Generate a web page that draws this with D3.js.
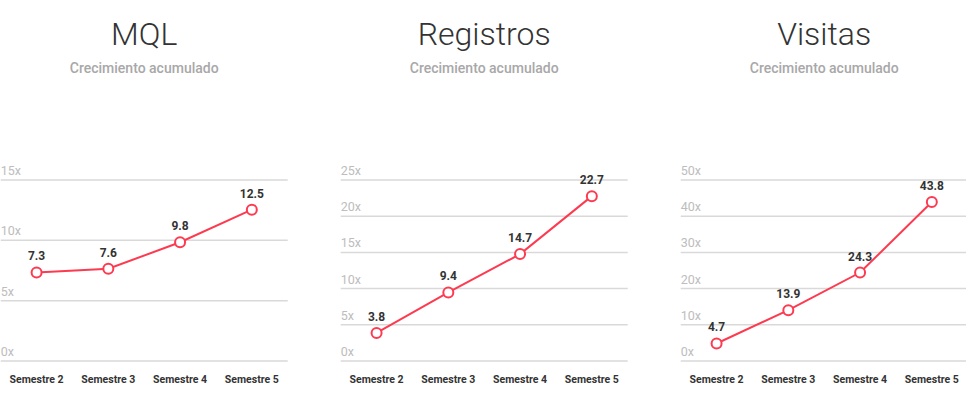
<!DOCTYPE html>
<html>
<head>
<meta charset="utf-8">
<script src="https://cdn.jsdelivr.net/npm/d3@7"></script>
<style>
  html, body { margin: 0; padding: 0; background: #fff; }
  svg { display: block; font-family: Roboto, "Noto Sans", sans-serif; }
</style>
</head>
<body>
<div class="chartsWrapper"></div>
<script>
// values
var semesters = ["Semestre 2", "Semestre 3", "Semestre 4", "Semestre 5"]
var titles = ["MQL", "Registros", "Visitas"]
var subtitle = "Crecimiento acumulado"
var mqlValues = [7.3, 7.6, 9.8, 12.5]
var registrosValues = [3.8, 9.4, 14.7, 22.7]
var visitasValues = [4.7, 13.9, 24.3, 43.8]
var mqlTicks = [0, 5, 10, 15]
var registrosTicks = [0, 5, 10, 15, 20, 25]
var visitasTicks = [0, 10, 20, 30, 40, 50]

var panels = [
  { title: titles[0], values: mqlValues, ticks: mqlTicks },
  { title: titles[1], values: registrosValues, ticks: registrosTicks },
  { title: titles[2], values: visitasValues, ticks: visitasTicks }
]

var width = 966, height = 410
var red = '#fd3a50'

var svg = d3.select('.chartsWrapper')
            .append('svg')
            .attr('width', width)
            .attr('height', height)

var plotW = 287, plotTop = 179.5, plotBottom = 360.5

panels.forEach(function(p, i) {
  var left = 0.7 + i * 340
  var g = svg.append('g').attr('transform', 'translate(' + left + ',0)')

  var x = d3.scaleBand()
            .domain(semesters)
            .range([0, plotW])
  var y = d3.scaleLinear()
            .domain([0, d3.max(p.ticks)])
            .range([plotBottom, plotTop])

  // titles
  g.append('text')
   .attr('x', plotW / 2).attr('y', 45)
   .attr('text-anchor', 'middle')
   .style('font-size', '32px').style('font-weight', 300)
   .style('fill', '#333')
   .text(p.title)

  g.append('text')
   .attr('x', plotW / 2).attr('y', 73)
   .attr('text-anchor', 'middle')
   .style('font-size', '14px').style('font-weight', 500)
   .style('fill', '#a8a8a8')
   .text(subtitle)

  // grid + y labels via axis
  var yAxis = d3.axisRight(y)
                .tickValues(p.ticks)
                .tickSize(plotW)
                .tickFormat(function(d) { return d + 'x' })
  var ya = g.append('g').call(yAxis)
  ya.select('.domain').remove()
  ya.selectAll('.tick line')
    .attr('stroke', '#d9d9d9')
    .attr('stroke-width', 1.5)
  ya.selectAll('.tick text')
    .attr('x', 0).attr('dy', -5)
    .attr('text-anchor', 'start')
    .style('font-size', '12.5px')
    .style('font-family', 'Roboto, sans-serif')
    .style('fill', '#bdbdbd')

  // x labels
  var xAxis = d3.axisBottom(x).tickSize(0).tickPadding(0)
  var xa = g.append('g')
            .attr('transform', 'translate(0,' + 383 + ')')
            .call(xAxis)
  xa.select('.domain').remove()
  xa.selectAll('.tick text')
    .attr('dy', 0).attr('y', 0)
    .style('font-size', '10.5px')
    .style('font-weight', 700)
    .style('font-family', 'Roboto, sans-serif')
    .style('fill', '#333')

  var cx = function(d, j) { return x(semesters[j]) + x.bandwidth() / 2 }

  var line = d3.line()
               .x(cx)
               .y(function(d) { return y(d) })
  g.append('path')
   .datum(p.values)
   .attr('d', line)
   .attr('fill', 'none')
   .attr('stroke', red)
   .attr('stroke-width', 2)

  g.selectAll('.dot')
   .data(p.values)
   .enter()
   .append('circle')
   .attr('class', 'dot')
   .attr('cx', cx)
   .attr('cy', function(d) { return y(d) })
   .attr('r', 5)
   .attr('fill', '#fff')
   .attr('stroke', red)
   .attr('stroke-width', 2)

  g.selectAll('.val')
   .data(p.values)
   .enter()
   .append('text')
   .attr('class', 'val')
   .attr('x', cx)
   .attr('y', function(d) { return y(d) - 12 })
   .attr('text-anchor', 'middle')
   .style('font-size', '12px')
   .style('font-weight', 700)
   .style('fill', '#333')
   .text(function(d) { return d3.format('.1f')(d) })
})
</script>
</body>
</html>
